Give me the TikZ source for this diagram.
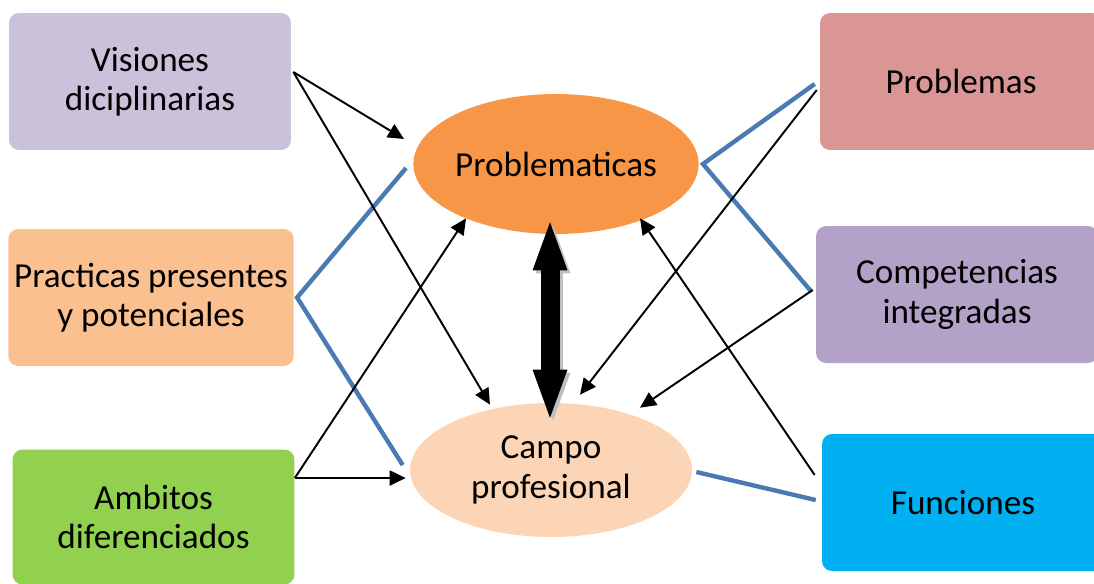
\documentclass[tikz,border=0pt]{standalone}
\usepackage{fontspec}
\setmainfont{Carlito}
\usetikzlibrary{arrows.meta,calc,shapes.geometric}

\definecolor{cvis}{HTML}{CCC1DA}
\definecolor{cprac}{HTML}{FAC090}
\definecolor{camb}{HTML}{92D050}
\definecolor{cpbm}{HTML}{D99694}
\definecolor{ccomp}{HTML}{B3A2C7}
\definecolor{cfun}{HTML}{00B0F0}
\definecolor{cprob}{HTML}{F79646}
\definecolor{ccampo}{HTML}{FBD5B5}
\definecolor{cline}{HTML}{4A7AB4}

\begin{document}
\begin{tikzpicture}[x=0.02cm,y=-0.02cm]
\tikzset{box/.style = {shape=rectangle,rounded corners=0.2cm,minimum width=5.64cm,minimum height=2.74cm,align=center,font=\fontsize{20}{22.5}\selectfont}}
\tikzset{oval/.style = {shape=ellipse,inner sep=0pt,minimum width=5.64cm,minimum height=2.74cm,align=center,font=\fontsize{20}{22.5}\selectfont}}
\tikzset{edge/.style = {-{Triangle[length=0.32cm,width=0.3cm]},line width=1.1pt}}
\tikzset{link/.style = {cline,line width=2.5pt}}
\useasboundingbox (0,0) rectangle (1094,583);
\clip (0,0) rectangle (1094,583);
% boxes
\node[box,fill=cvis] (vis) at (150,81.5) {Visiones\\diciplinarias};
\node[box,fill=cprac] (prac) at (151,297.5) {Practicas presentes\\y potenciales};
\node[box,fill=camb,minimum height=2.7cm] (amb) at (153.5,517) {Ambitos\\diferenciados};
\node[box,fill=cpbm] (pbm) at (961,81.5) {Problemas};
\node[box,fill=ccomp] (comp) at (957,294.5) {Competencias\\integradas};
\node[box,fill=cfun] (fun) at (963,502.5) {Funciones};
% ellipses
\node[oval,fill=cprob,minimum height=2.8cm] (prob) at (556,164) {Problematicas};
\node[oval,fill=ccampo,minimum height=2.68cm] (campo) at (551,470) {Campo\\profesional};
% blue links
\draw[link] ($(prob.west)+(-7,4)$) -- ($(prac.east)+(3,0)$) -- ($(campo.west)+(-7,-5)$);
\draw[link] ($(pbm.west)+(-5,2.5)$) -- ($(prob.east)+(4,0)$) -- ($(comp.west)+(-4,-2.5)$);
\draw[link] ($(campo.east)+(4,2)$) -- ($(fun.west)+(-6,-2.5)$);
% edges
\draw[edge] ($(vis.east)+(2,-9.5)$) to ($(prob.west)+(-9,-25)$);
\draw[edge] ($(vis.east)+(2,-9.5)$) to ($(campo.north)+(-61,2)$);
\draw[edge] ($(amb.east)+(0,-39)$) to ($(prob.south)+(-90,-16)$);
\draw[edge] ($(amb.east)+(0,-39)$) to ($(campo.west)+(-4,8)$);
\draw[edge] ($(pbm.west)+(-3,8.5)$) to ($(campo.north)+(29,-8)$);
\draw[edge] ($(comp.west)+(-3,-4.5)$) to ($(campo.north)+(89,5)$);
\draw[edge] ($(fun.west)+(-7,-27.5)$) to ($(prob.south)+(84,-16)$);
% thick double arrow
\coordinate (up) at ($(prob.south)+(-6,-17)$);
\coordinate (down) at ($(campo.north)+(-1,20)$);
\draw[gray!50,line width=0.38cm,{Triangle[length=1.06cm,width=0.6cm]}-{Triangle[length=1.06cm,width=0.6cm]}] ($(up)+(3,3)$) -- ($(down)+(3,3)$);
\draw[black,line width=0.38cm,{Triangle[length=1.06cm,width=0.6cm]}-{Triangle[length=1.06cm,width=0.6cm]}] (up) -- (down);
\end{tikzpicture}
\end{document}
